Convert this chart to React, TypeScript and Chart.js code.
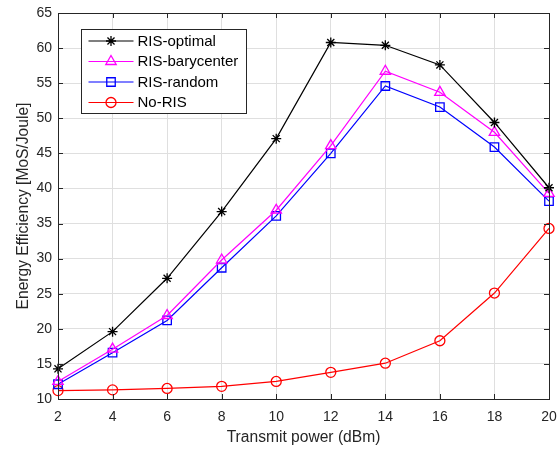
import React, { useEffect, useRef } from 'react';
import { Chart, registerables } from 'chart.js';
import { drawPoint } from 'chart.js/helpers';

Chart.register(...registerables);

const powerDbm = [2, 4, 6, 8, 10, 12, 14, 16, 18, 20];
const risOptimal = [14.3, 19.6, 27.2, 36.7, 47.1, 60.8, 60.4, 57.6, 49.4, 40.1];
const risBarycenter = [12.5, 17.1, 21.9, 29.8, 36.9, 46.1, 56.7, 53.7, 48.0, 39.3];
const risRandom = [12.1, 16.6, 21.2, 28.7, 36.1, 45.0, 54.6, 51.6, 45.9, 38.2];
const noRis = [11.2, 11.3, 11.5, 11.8, 12.5, 13.8, 15.1, 18.3, 25.1, 34.3];
const seriesLabels = ['RIS-optimal', 'RIS-barycenter', 'RIS-random', 'No-RIS'];
const xTitle = 'Transmit power (dBm)';
const yTitle = 'Energy Efficiency [MoS/Joule]';

const FONT = '"Liberation Sans", Arial, Helvetica, sans-serif';
const AXIS_COLOR = '#262626';
const GRID_COLOR = '#dfdfdf';

const boxPlugin = {
  id: 'matlabBox',
  afterDraw(chart: any) {
    const { ctx, chartArea } = chart;
    const { left, right, top, bottom } = chartArea;
    const xs = chart.scales.x;
    const ys = chart.scales.y;
    ctx.save();
    ctx.strokeStyle = AXIS_COLOR;
    ctx.lineWidth = 1;
    ctx.beginPath();
    ctx.rect(Math.round(left) + 0.5, Math.round(top) + 0.5, Math.round(right - left), Math.round(bottom - top));
    ctx.stroke();
    const tl = 5;
    ctx.beginPath();
    xs.ticks.forEach((t: any) => {
      const px = Math.round(xs.getPixelForValue(t.value)) + 0.5;
      ctx.moveTo(px, bottom);
      ctx.lineTo(px, bottom - tl);
      ctx.moveTo(px, top);
      ctx.lineTo(px, top + tl);
    });
    ys.ticks.forEach((t: any) => {
      const py = Math.round(ys.getPixelForValue(t.value)) + 0.5;
      ctx.moveTo(left, py);
      ctx.lineTo(left + tl, py);
      ctx.moveTo(right, py);
      ctx.lineTo(right - tl, py);
    });
    ctx.stroke();

    // legend
    const bx = 81.5, by = 29.5, bw = 165, bh = 84;
    ctx.fillStyle = '#ffffff';
    ctx.fillRect(bx, by, bw, bh);
    ctx.strokeStyle = AXIS_COLOR;
    ctx.lineWidth = 1;
    ctx.strokeRect(bx, by, bw, bh);
    const rowY = [41, 61.5, 82, 102.5];
    chart.data.datasets.forEach((ds: any, i: number) => {
      const y = rowY[i];
      ctx.strokeStyle = ds.borderColor;
      ctx.lineWidth = ds.borderWidth;
      ctx.beginPath();
      ctx.moveTo(88.5, y);
      ctx.lineTo(133.5, y);
      ctx.stroke();
      ctx.fillStyle = 'rgba(0,0,0,0)';
      ctx.strokeStyle = ds.pointBorderColor;
      ctx.lineWidth = ds.pointBorderWidth;
      drawPoint(ctx, { pointStyle: ds.pointStyle, radius: ds.pointRadius, rotation: 0, borderWidth: ds.pointBorderWidth }, 111, y);
      ctx.fillStyle = '#000000';
      ctx.font = `15px ${FONT}`;
      ctx.textBaseline = 'middle';
      ctx.textAlign = 'left';
      ctx.fillText(ds.label, 137.5, y + 0.5);
    });
    ctx.restore();
  },
};

function mk(label: string, values: number[], color: string, style: string, radius: number) {
  return {
    label,
    data: values.map((v, i) => ({ x: powerDbm[i], y: v })),
    borderColor: color,
    borderWidth: 1.2,
    pointStyle: style,
    pointRadius: radius,
    pointBorderColor: color,
    pointBorderWidth: 1.3,
    pointBackgroundColor: 'rgba(0,0,0,0)',
    tension: 0,
    clip: false,
  };
}

export default function App() {
  const ref = useRef<HTMLCanvasElement>(null);
  useEffect(() => {
    if (!ref.current) return;
    const chart = new Chart(ref.current, {
      type: 'line',
      data: {
        datasets: [
          mk(seriesLabels[0], risOptimal, '#000000', 'star', 5),
          mk(seriesLabels[1], risBarycenter, '#ff00ff', 'triangle', 6),
          mk(seriesLabels[2], risRandom, '#0000ff', 'rect', 6),
          mk(seriesLabels[3], noRis, '#ff0000', 'circle', 5),
        ] as any,
      },
      options: {
        animation: false,
        responsive: false,
        devicePixelRatio: 1,
        layout: { padding: { top: 13, right: 9, left: 0, bottom: 0 } },
        plugins: { legend: { display: false }, tooltip: { enabled: false } },
        scales: {
          x: {
            type: 'linear',
            min: 2,
            max: 20,
            ticks: { stepSize: 2, color: AXIS_COLOR, font: { size: 14, family: FONT }, padding: 10, maxRotation: 0 },
            grid: { color: GRID_COLOR, drawTicks: false },
            border: { display: true, color: AXIS_COLOR },
            title: { display: true, text: xTitle, color: AXIS_COLOR, font: { size: 15.6, family: FONT }, padding: { top: 0, bottom: 2 } },
            afterFit: (s: any) => { s.height = 50; s.paddingLeft = 0; s.paddingRight = 0; },
          },
          y: {
            type: 'linear',
            min: 10,
            max: 65,
            ticks: { stepSize: 5, color: AXIS_COLOR, font: { size: 14, family: FONT }, padding: 6 },
            grid: { color: GRID_COLOR, drawTicks: false },
            border: { display: true, color: AXIS_COLOR },
            title: { display: true, text: yTitle, color: AXIS_COLOR, font: { size: 15.6, family: FONT }, padding: { top: 14, bottom: 0 } },
            afterFit: (s: any) => { s.width = 58; s.paddingTop = 0; s.paddingBottom = 0; },
          },
        },
      },
      plugins: [boxPlugin],
    });
    return () => chart.destroy();
  }, []);
  return (
    <div style={{ position: 'fixed', left: 0, top: 0, width: 558, height: 449, background: '#fff' }}>
      <canvas ref={ref} width={558} height={449} />
    </div>
  );
}
